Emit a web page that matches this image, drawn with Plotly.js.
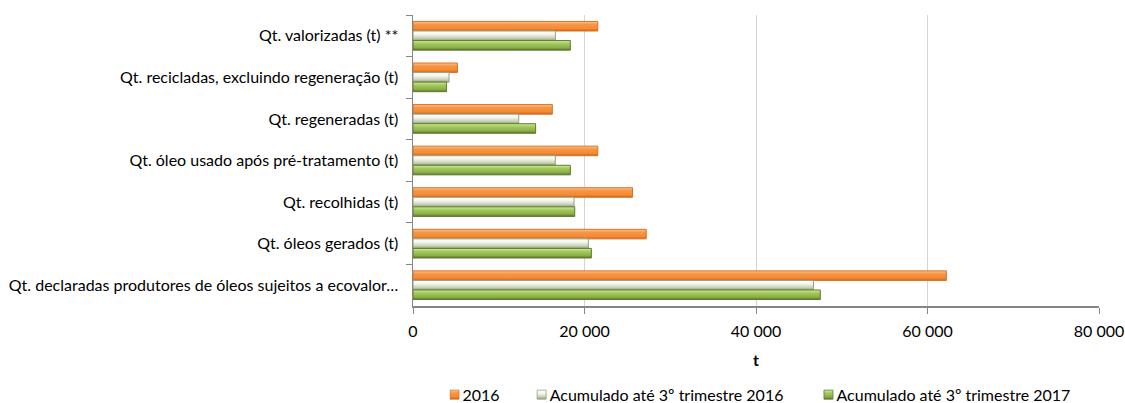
<!DOCTYPE html>
<html>
<head>
<meta charset="utf-8">
<script src="https://cdn.plot.ly/plotly-3.0.1.min.js"></script>
<style>
html,body{margin:0;padding:0;background:#fff;}
#chart{width:1125px;height:403px;}
</style>
</head>
<body>
<div id="chart"></div>
<script>
// Categories listed top to bottom
var categories = [
  "Qt. valorizadas (t) **",
  "Qt. recicladas, excluindo regeneração (t)",
  "Qt. regeneradas (t)",
  "Qt. óleo usado após pré-tratamento (t)",
  "Qt. recolhidas (t)",
  "Qt. óleos gerados (t)",
  "Qt. declaradas produtores de óleos sujeitos a ecovalor…"
];
var seriesNames = ["2016", "Acumulado até 3º trimestre 2016", "Acumulado até 3º trimestre 2017"];
var values2016    = [21550, 5180, 16250, 21550, 25600, 27200, 62200];
var valuesAcc2016 = [16600, 4200, 12330, 16600, 18780, 20450, 46700];
var valuesAcc2017 = [18350, 3900, 14300, 18350, 18860, 20800, 47500];
var tickValues = [0, 20000, 40000, 60000, 80000];

var colors = ["#F79646", "#D7DFC6", "#9BBB59"];
var edges = ["#D9731F", "#95A47C", "#5F7A2C"];
var seriesValues = [values2016, valuesAcc2016, valuesAcc2017];

var traces = seriesValues.map(function(v, i){
  return {
    type: "bar",
    orientation: "h",
    name: seriesNames[i],
    y: categories,
    x: v,
    marker: {color: colors[i], line: {color: edges[i], width: 1}},
    hoverinfo: "x+y"
  };
});

var font = "Lato, 'Open Sans', 'DejaVu Sans', sans-serif";
var layout = {
  width: 1125, height: 403,
  margin: {l: 413, r: 26, t: 15, b: 97, autoexpand: false},
  paper_bgcolor: "#fff", plot_bgcolor: "#fff",
  separators: ", ",
  barmode: "group",
  bargap: 0.31,
  bargroupgap: 0,
  font: {family: font, size: 16, color: "#000"},
  showlegend: true,
  legend: {
    orientation: "h", x: 0.5, xanchor: "center", y: -0.305, yanchor: "middle",
    font: {family: font, size: 16, color: "#000"},
    traceorder: "normal", itemwidth: 30
  },
  xaxis: {
    range: [0, 80000],
    tickvals: tickValues,
    tickformat: ",d",
    showgrid: true, gridcolor: "#D4D4D4", gridwidth: 1,
    zeroline: false,
    showline: true, linecolor: "#868686", linewidth: 1.5,
    ticks: "outside", ticklen: 6, tickcolor: "#868686",
    ticklabelstandoff: 4,
    tickfont: {family: font, size: 16, color: "#000"},
    title: {text: "<b>t</b>", font: {family: font, size: 16, color: "#000"}, standoff: 16},
    fixedrange: true
  },
  yaxis: {
    type: "category",
    autorange: "reversed",
    showgrid: false, zeroline: false,
    showline: true, linecolor: "#868686", linewidth: 1.5,
    ticks: "outside", ticklen: 6, tickcolor: "#868686",
    tickson: "boundaries",
    ticklabelstandoff: 10,
    tickfont: {family: font, size: 16, color: "#000"},
    fixedrange: true
  }
};

function parseTranslate(s){
  var m = /translate\(\s*([-\d.e]+)[ ,]+([-\d.e]+)\s*\)/.exec(s || "");
  return m ? [parseFloat(m[1]), parseFloat(m[2])] : [0, 0];
}

Plotly.newPlot("chart", traces, layout, {displayModeBar: false, staticPlot: true}).then(function(gd){
  // vertical gradients to imitate the bevelled bars
  var svgNS = "http://www.w3.org/2000/svg";
  var svg = gd.querySelector(".main-svg");
  var defs = svg.querySelector("defs") || svg.insertBefore(document.createElementNS(svgNS, "defs"), svg.firstChild);
  var stops = [
    [["0", "#FCC796"], ["0.3", "#F79646"], ["0.75", "#F38A36"], ["1", "#C9641A"]],
    [["0", "#FFFFFF"], ["0.35", "#F4F6EE"], ["0.75", "#C7D0B4"], ["1", "#8E9B76"]],
    [["0", "#D4EDA0"], ["0.3", "#A5CB5E"], ["0.75", "#8BAE4A"], ["1", "#57722A"]]
  ];
  stops.forEach(function(st, i){
    var g = document.createElementNS(svgNS, "linearGradient");
    g.setAttribute("id", "barGrad" + i);
    g.setAttribute("x1", "0"); g.setAttribute("y1", "0");
    g.setAttribute("x2", "0"); g.setAttribute("y2", "1");
    st.forEach(function(s){
      var e = document.createElementNS(svgNS, "stop");
      e.setAttribute("offset", s[0]); e.setAttribute("stop-color", s[1]);
      g.appendChild(e);
    });
    defs.appendChild(g);
  });
  gd.querySelectorAll(".barlayer .trace.bars").forEach(function(grp, i){
    grp.querySelectorAll("path").forEach(function(p){ p.style.fill = "url(#barGrad" + i + ")"; });
  });

  // compact legend: small swatch right before the text, Excel-like spacing
  var gaps = [37, 40];
  var items = gd.querySelectorAll(".legend .traces");
  var xpos = 0;
  items.forEach(function(t, i){
    var lp = t.querySelector(".legendpoints");
    if (lp) lp.setAttribute("transform", "");
    t.querySelectorAll(".legendpoints path").forEach(function(p){
      p.setAttribute("d", "M4.5,4.5H-4.5V-4.5H4.5Z");
      p.setAttribute("transform", "translate(5,0)");
      p.style.fill = "url(#barGrad" + i + ")";
      p.style.strokeWidth = "0.8px";
    });
    var txt = t.querySelector("text.legendtext");
    txt.setAttribute("x", "13");
    var ty = parseTranslate(t.getAttribute("transform"))[1];
    t.setAttribute("transform", "translate(" + xpos + "," + ty + ")");
    var w = txt.getComputedTextLength();
    xpos += 13 + w + (gaps[i] || 0);
  });
  var legend = gd.querySelector(".legend");
  var svgRect = svg.getBoundingClientRect();
  var firstSw = items[0].querySelector(".legendpoints path").getBoundingClientRect();
  var lt = parseTranslate(legend.getAttribute("transform"));
  var dx = 450 - (firstSw.left - svgRect.left);
  legend.setAttribute("transform", "translate(" + (lt[0] + dx) + "," + lt[1] + ")");
  var bgr = legend.querySelector("rect.bg");
  if (bgr) bgr.setAttribute("width", xpos + 20);
});
</script>
</body>
</html>
